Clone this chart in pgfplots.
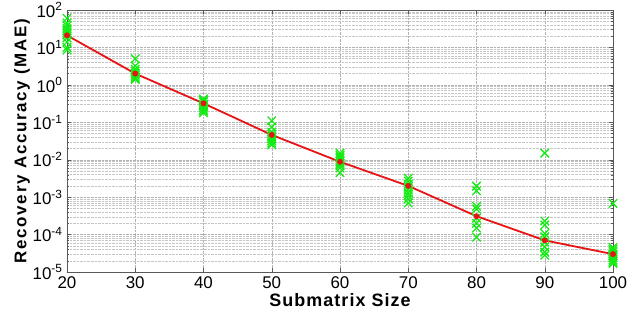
\documentclass[border=0pt]{standalone}
\usepackage{fontspec}
\setmainfont{Liberation Sans}
\newfontfamily\xlblfont[LetterSpace=6]{Liberation Sans}
\newfontfamily\ylblfont[LetterSpace=10]{Liberation Sans}
\usepackage{pgfplots}
\pgfplotsset{compat=1.18}
\definecolor{mred}{RGB}{230,20,20}
\definecolor{mgreen}{RGB}{20,235,20}
\begin{document}
\begin{tikzpicture}
\begin{axis}[name=ax, scale only axis, width=546bp, height=262bp,
  ymode=log, xmin=20, xmax=100, ymin=1e-5, ymax=1e2,
  xtick={20,30,...,100},
  ytick={1e-5,1e-4,1e-3,1e-2,1e-1,1,10,100},
  yticklabels={10\textsuperscript{-5},10\textsuperscript{-4},10\textsuperscript{-3},10\textsuperscript{-2},10\textsuperscript{-1},10\textsuperscript{0},10\textsuperscript{1},10\textsuperscript{2}},
  /pgf/number format/assume math mode=true,
  tick align=inside,
  xmajorgrids, ymajorgrids, yminorgrids,
  grid style={densely dotted, gray!60},
  minor grid style={densely dotted, gray!45},
  axis line style={gray!70!black},
  tick style={gray!70!black},
  major tick length=4bp, minor tick length=2.5bp,
  ticklabel style={font=\fontsize{17}{19}\selectfont, text=black},
  xticklabel style={yshift=-1bp},
  yticklabel style={xshift=-1bp},
  xlabel={\xlblfont\fontsize{18}{20}\selectfont\bfseries Submatrix Size},
  ylabel={\ylblfont\fontsize{17}{19}\selectfont\bfseries Recovery Accuracy (MAE)},
  xlabel style={at={(axis description cs:0.5,-0.107)}, anchor=center},
  ylabel style={at={(axis description cs:-0.0824,0.5)}, anchor=center},
  clip=false,
]
\addplot[only marks, mark=x, mark size=6bp, mgreen, line width=1.3bp] coordinates {
(20,60) (20,45) (20,38) (20,32) (20,28) (20,25) (20,22) (20,18) (20,14) (20,10) (20,8.5)
(30,5.0) (30,3.2) (30,2.6) (30,2.3) (30,2.0) (30,1.8) (30,1.6) (30,1.5) (30,1.4)
(40,0.42) (40,0.38) (40,0.35) (40,0.3) (40,0.28) (40,0.25) (40,0.22) (40,0.2) (40,0.18)
(50,0.11) (50,0.075) (50,0.055) (50,0.048) (50,0.042) (50,0.036) (50,0.032) (50,0.028) (50,0.025)
(60,0.015) (60,0.013) (60,0.012) (60,0.011) (60,0.009) (60,0.008) (60,0.007) (60,0.006) (60,0.0045)
(70,0.0032) (70,0.0027) (70,0.0022) (70,0.0019) (70,0.0016) (70,0.0013) (70,0.0011) (70,0.0009) (70,0.0007)
(80,0.00197) (80,0.00148) (80,0.00057) (80,0.00048) (80,0.000275) (80,0.0002) (80,0.00015) (80,0.000085)
(90,0.015) (90,0.00023) (90,0.00018) (90,0.000107) (90,0.000087) (90,0.000063) (90,0.000047) (90,0.000034) (90,0.000028)
(100,0.00068) (100,0.000045) (100,0.00004) (100,0.000035) (100,0.00003) (100,0.000027) (100,0.000024) (100,0.000021) (100,0.000019) (100,0.000017)
};
\addplot[mred, line width=1.8bp, mark=*, mark size=2bp] coordinates {
(20,21) (30,2.0) (40,0.32) (50,0.046) (60,0.0088) (70,0.002) (80,0.00031) (90,0.00007) (100,0.00003)
};
\end{axis}
\pgfresetboundingbox
\path[use as bounding box] ([xshift=-67bp,yshift=-48bp]ax.south west) rectangle ([xshift=16bp,yshift=10bp]ax.north east);
\end{tikzpicture}
\end{document}
